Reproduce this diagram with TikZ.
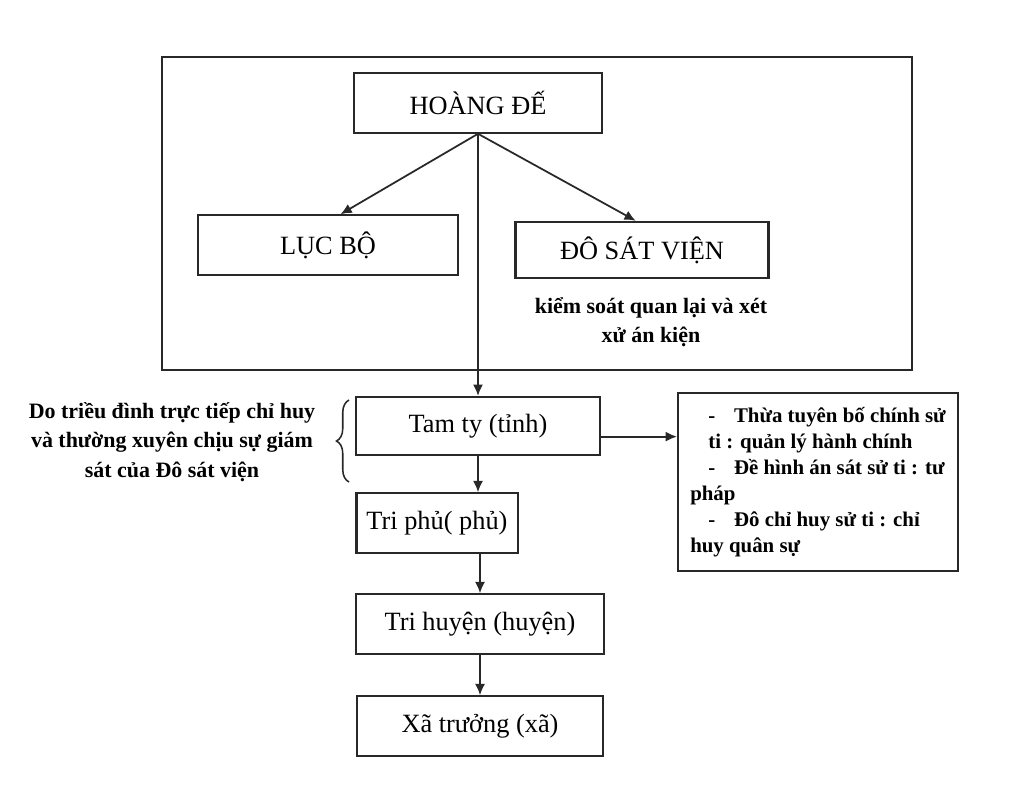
\documentclass[tikz,border=0pt]{standalone}
\usepackage{fontspec}
\setmainfont{Liberation Serif}
\usetikzlibrary{arrows.meta, positioning, decorations.pathreplacing}
\definecolor{LineColor}{RGB}{40,40,40}

\begin{document}
\begin{tikzpicture}[
    x=0.016cm, y=-0.016cm,
    font=\fontsize{12}{14}\selectfont,
    box/.style={draw=LineColor, line width=1pt, align=center, inner sep=2pt},
    rank/.style={box, minimum width=3.95cm, minimum height=0.95cm},
    remark/.style={font=\fontsize{10}{13.5}\selectfont\bfseries, align=center},
    arrow/.style={-{Latex[length=1.8mm,width=1.6mm]}, line width=0.8pt, LineColor}
  ]
  \useasboundingbox (0,0) rectangle (1024,802);

  % central court frame
  \draw[LineColor, line width=1pt] (162,57) rectangle (912,370);

  \node[rank, minimum width=3.97cm] (king) at (478,103) {HOÀNG ĐẾ};
  \node[rank, minimum width=4.16cm] (lucbo) at (328,245) {LỤC BỘ};
  \node[rank, minimum width=4.05cm, minimum height=0.9cm] (dosat) at (642,250) {ĐÔ SÁT VIỆN};
  \node[remark] (dosatnote) at (651,322) {kiểm soát quan lại và xét\\xử án kiện};

  % local levels
  \node[rank, minimum width=3.9cm, minimum height=0.93cm] (tamty) at (478,426) {Tam ty (tỉnh)};
  \node[rank, minimum width=2.58cm] (triphu) at (437,523) {Tri phủ( phủ)};
  \node[rank, minimum width=3.98cm] (trihuyen) at (480,624) {Tri huyện (huyện)};
  \node[rank, minimum width=3.94cm] (xatruong) at (480,726) {Xã trưởng (xã)};

  \node[box, minimum width=4.48cm, minimum height=2.86cm, align=left,
        font=\fontsize{9.5}{11.8}\selectfont\bfseries] (tamtynote) at (818,482)
    {\hspace*{0.29cm}-\hspace{0.3cm}Thừa tuyên bố chính sử\\
     \hspace*{0.29cm}ti : quản lý hành chính\\
     \hspace*{0.29cm}-\hspace{0.3cm}Đề hình án sát sử ti : tư\\
     pháp\\
     \hspace*{0.29cm}-\hspace{0.3cm}Đô chỉ huy sử ti : chỉ\\
     huy quân sự};

  \node[remark] (tamtyremark) at (172,442) {Do triều đình trực tiếp chỉ huy\\và thường xuyên chịu sự giám\\sát của Đô sát viện};
  \coordinate (bracetop) at (349,400);
  \coordinate (bracebot) at (349,482);
  \draw[LineColor, line width=0.7pt, decorate, decoration={brace, amplitude=0.2cm}] (bracebot) -- (bracetop);

  \draw[arrow] (king.south) -- ([xshift=0.2cm]lucbo.north);
  \draw[arrow] (king.south) -- ([xshift=-0.1cm]dosat.north);
  \draw[arrow] (king.south) -- (tamty.north);
  \draw[arrow] ([yshift=-0.17cm]tamty.east) -- ([yshift=-0.17cm]tamty.east -| tamtynote.west);
  \draw[arrow] (tamty.south) -- (tamty.south |- triphu.north);
  \draw[arrow] (triphu.south -| trihuyen.north) -- (trihuyen.north);
  \draw[arrow] (trihuyen.south) -- (xatruong.north);
\end{tikzpicture}
\end{document}
